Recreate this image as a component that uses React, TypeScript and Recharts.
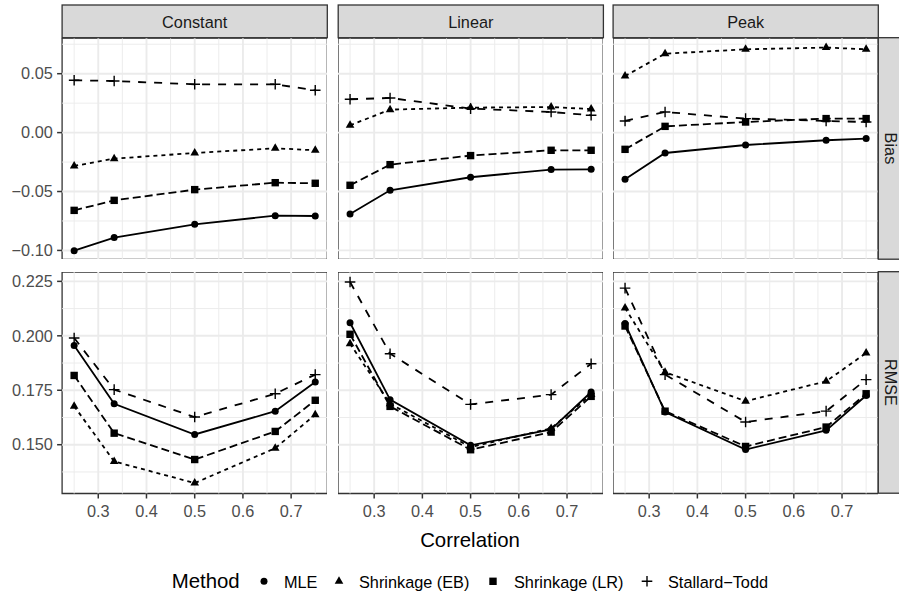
import React from "react";
import { LineChart, Line, XAxis, YAxis, ReferenceLine, ReferenceArea } from "recharts";

const FONT = "'Liberation Sans', Arial, Helvetica, sans-serif";

// ---------- data ----------
const correlation = [0.25, 0.333, 0.5, 0.667, 0.75];
const scenarios = ["Constant", "Linear", "Peak"];
const measures = ["Bias", "RMSE"];
const methodLabels = ["MLE", "Shrinkage (EB)", "Shrinkage (LR)", "Stallard−Todd"];

const xTicks = [0.3, 0.4, 0.5, 0.6, 0.7];
const xTickLabels = ["0.3", "0.4", "0.5", "0.6", "0.7"];
const xMinor = [0.25, 0.35, 0.45, 0.55, 0.65, 0.75];
const biasTicks = [-0.1, -0.05, 0, 0.05];
const biasTickLabels = ["−0.10", "−0.05", "0.00", "0.05"];
const biasMinor = [-0.075, -0.025, 0.025, 0.075];
const rmseTicks = [0.15, 0.175, 0.2, 0.225];
const rmseTickLabels = ["0.150", "0.175", "0.200", "0.225"];
const rmseMinor = [0.1375, 0.1625, 0.1875, 0.2125];

// Bias
const biasConstantMLE = [-0.1002, -0.0891, -0.0778, -0.0705, -0.0708];
const biasConstantEB = [-0.0283, -0.0221, -0.0173, -0.0133, -0.015];
const biasConstantLR = [-0.066, -0.0575, -0.0484, -0.0425, -0.043];
const biasConstantST = [0.0444, 0.0438, 0.041, 0.041, 0.0359];

const biasLinearMLE = [-0.0691, -0.049, -0.0379, -0.0314, -0.0312];
const biasLinearEB = [0.0062, 0.0195, 0.0212, 0.0217, 0.02];
const biasLinearLR = [-0.0447, -0.0272, -0.0195, -0.015, -0.015];
const biasLinearST = [0.0283, 0.0294, 0.0204, 0.0175, 0.0147];

const biasPeakMLE = [-0.0396, -0.0173, -0.0105, -0.0065, -0.0051];
const biasPeakEB = [0.048, 0.067, 0.0707, 0.0722, 0.0707];
const biasPeakLR = [-0.0142, 0.0053, 0.009, 0.0119, 0.0119];
const biasPeakST = [0.0099, 0.0175, 0.0119, 0.0099, 0.009];

// RMSE
const rmseConstantMLE = [0.1956, 0.1688, 0.1547, 0.1654, 0.1788];
const rmseConstantEB = [0.1677, 0.1423, 0.1324, 0.1484, 0.1638];
const rmseConstantLR = [0.1818, 0.1553, 0.1432, 0.1561, 0.1704];
const rmseConstantST = [0.199, 0.1753, 0.1627, 0.1734, 0.1822];

const rmseLinearMLE = [0.206, 0.1707, 0.1497, 0.157, 0.1742];
const rmseLinearEB = [0.1964, 0.1688, 0.1489, 0.1575, 0.1731];
const rmseLinearLR = [0.2007, 0.1676, 0.1477, 0.1558, 0.1722];
const rmseLinearST = [0.2247, 0.1918, 0.1685, 0.173, 0.1872];

const rmsePeakMLE = [0.2056, 0.165, 0.1478, 0.1566, 0.1726];
const rmsePeakEB = [0.2128, 0.1833, 0.17, 0.1791, 0.1921];
const rmsePeakLR = [0.2045, 0.1654, 0.1492, 0.1581, 0.1734];
const rmsePeakST = [0.2219, 0.1822, 0.1604, 0.1654, 0.1799];

const SERIES: Record<string, number[][]> = {
  "Bias-Constant": [biasConstantMLE, biasConstantEB, biasConstantLR, biasConstantST],
  "Bias-Linear": [biasLinearMLE, biasLinearEB, biasLinearLR, biasLinearST],
  "Bias-Peak": [biasPeakMLE, biasPeakEB, biasPeakLR, biasPeakST],
  "RMSE-Constant": [rmseConstantMLE, rmseConstantEB, rmseConstantLR, rmseConstantST],
  "RMSE-Linear": [rmseLinearMLE, rmseLinearEB, rmseLinearLR, rmseLinearST],
  "RMSE-Peak": [rmsePeakMLE, rmsePeakEB, rmsePeakLR, rmsePeakST],
};

// ---------- layout / style ----------
const COL_LEFT = [62.1, 338.2, 613.1];
const PANEL_W = 265.2;
const ROW_TOP = [37.7, 271.7];
const PANEL_H = 221.5;
const X_DOMAIN: [number, number] = [0.225, 0.775];
const Y_DOMAINS: [number, number][] = [
  [-0.1077, 0.0803],
  [0.1276, 0.2293],
];
const KEYS = ["MLE", "EB", "LR", "ST"];
const DASH = ["", "4 4", "8 4", "8 8"];
const MARKERS = ["circle", "triangle", "square", "plus"];
const GRID = "#EBEBEB";
const BORDER = "#333333";

function renderMarker(kind: string, cx: number, cy: number, key?: string) {
  if (cx == null || cy == null || isNaN(cx) || isNaN(cy)) return <g key={key} />;
  if (kind === "circle") return <circle key={key} cx={cx} cy={cy} r={3.5} fill="#000" />;
  if (kind === "square")
    return <rect key={key} x={cx - 3.7} y={cy - 3.7} width={7.4} height={7.4} fill="#000" />;
  if (kind === "triangle") {
    const s = 3.2;
    const pts = `${cx},${cy - 1.555 * s} ${cx + 1.347 * s},${cy + 0.778 * s} ${cx - 1.347 * s},${cy + 0.778 * s}`;
    return <polygon key={key} points={pts} fill="#000" />;
  }
  return (
    <path
      key={key}
      d={`M${cx - 5.3},${cy}H${cx + 5.3}M${cx},${cy - 5.3}V${cy + 5.3}`}
      stroke="#000"
      strokeWidth={1.4}
      fill="none"
    />
  );
}

function labelFor(ticks: number[], labels: string[]) {
  return (v: number) => {
    let best = 0;
    for (let i = 1; i < ticks.length; i++) {
      if (Math.abs(ticks[i] - v) < Math.abs(ticks[best] - v)) best = i;
    }
    return labels[best];
  };
}

function Panel({ row, col }: { row: number; col: number }) {
  const isLeft = col === 0;
  const isBottom = row === 1;
  const yAxisW = isLeft ? COL_LEFT[0] : 0;
  const xAxisH = isBottom ? 40 : 0;
  const width = PANEL_W + yAxisW;
  const height = PANEL_H + xAxisH;
  const left = COL_LEFT[col] - yAxisW;
  const top = ROW_TOP[row];
  const series = SERIES[`${measures[row]}-${scenarios[col]}`];
  const data = correlation.map((x, i) => ({
    x,
    MLE: series[0][i],
    EB: series[1][i],
    LR: series[2][i],
    ST: series[3][i],
  }));
  const yDomain = Y_DOMAINS[row];
  const yTicks = row === 0 ? biasTicks : rmseTicks;
  const yLabels = row === 0 ? biasTickLabels : rmseTickLabels;
  const yMinor = row === 0 ? biasMinor : rmseMinor;
  const tickStyle = { fill: "#4D4D4D", fontSize: 16.3, fontFamily: FONT };

  return (
    <div style={{ position: "absolute", left, top, width, height }}>
      <LineChart width={width} height={height} data={data} margin={{ top: 0, right: 0, bottom: 0, left: 0 }}>
        <XAxis
          dataKey="x"
          type="number"
          domain={X_DOMAIN}
          ticks={xTicks}
          interval={0}
          allowDataOverflow
          hide={!isBottom}
          height={xAxisH}
          axisLine={false}
          tickLine={{ stroke: BORDER, strokeWidth: 1.5 }}
          tickSize={5}
          tickMargin={6.5}
          tick={tickStyle}
          tickFormatter={labelFor(xTicks, xTickLabels)}
        />
        <YAxis
          type="number"
          domain={yDomain}
          ticks={yTicks}
          interval={0}
          allowDataOverflow
          hide={!isLeft}
          width={yAxisW}
          axisLine={false}
          tickLine={{ stroke: BORDER, strokeWidth: 1.5 }}
          tickSize={5}
          tickMargin={4.3}
          tick={tickStyle}
          tickFormatter={labelFor(yTicks, yLabels)}
        />
        {xMinor.map((v) => (
          <ReferenceLine key={`xm${v}`} x={v} stroke={GRID} strokeWidth={0.95} />
        ))}
        {yMinor.map((v) => (
          <ReferenceLine key={`ym${v}`} y={v} stroke={GRID} strokeWidth={0.95} />
        ))}
        {xTicks.map((v) => (
          <ReferenceLine key={`xM${v}`} x={v} stroke={GRID} strokeWidth={1.9} />
        ))}
        {yTicks.map((v) => (
          <ReferenceLine key={`yM${v}`} y={v} stroke={GRID} strokeWidth={1.9} />
        ))}
        {KEYS.map((k, i) => (
          <Line
            key={k}
            dataKey={k}
            type="linear"
            stroke="#000"
            strokeWidth={1.8}
            strokeDasharray={DASH[i] || undefined}
            isAnimationActive={false}
            activeDot={false}
            dot={(p: any) => renderMarker(MARKERS[i], p.cx, p.cy, `${k}-${p.index}`)}
          />
        ))}
        <ReferenceArea
          x1={X_DOMAIN[0]}
          x2={X_DOMAIN[1]}
          y1={yDomain[0]}
          y2={yDomain[1]}
          fill="none"
          fillOpacity={0}
          stroke={BORDER}
          strokeWidth={1.3}
          ifOverflow="visible"
        />
      </LineChart>
    </div>
  );
}

const legendMarkerX = [264, 339, 493, 647];
const legendLabelX = [284, 359, 514, 668];

export default function App() {
  return (
    <div
      style={{
        position: "absolute",
        left: 0,
        top: 0,
        width: 899,
        height: 594,
        overflow: "hidden",
        background: "#fff",
        fontFamily: FONT,
      }}
    >
      {[0, 1].map((r) => [0, 1, 2].map((c) => <Panel key={`${r}-${c}`} row={r} col={c} />))}
      <svg
        width={899}
        height={594}
        style={{ position: "absolute", left: 0, top: 0, pointerEvents: "none" }}
      >
        {scenarios.map((s, c) => (
          <g key={s}>
            <rect x={COL_LEFT[c]} y={5} width={PANEL_W} height={32.7} fill="#D9D9D9" stroke={BORDER} strokeWidth={1.3} />
            <text
              x={COL_LEFT[c] + PANEL_W / 2}
              y={27.8}
              textAnchor="middle"
              fontSize={16.3}
              fontFamily={FONT}
              fill="#1A1A1A"
            >
              {s}
            </text>
          </g>
        ))}
        {measures.map((m, r) => (
          <g key={m}>
            <rect
              x={COL_LEFT[2] + PANEL_W}
              y={ROW_TOP[r]}
              width={33}
              height={PANEL_H}
              fill="#D9D9D9"
              stroke={BORDER}
              strokeWidth={1.3}
            />
            <text
              transform={`translate(890.5, ${ROW_TOP[r] + PANEL_H / 2}) rotate(90)`}
              x={0}
              y={5.8}
              textAnchor="middle"
              fontSize={16.3}
              fontFamily={FONT}
              fill="#1A1A1A"
            >
              {m}
            </text>
          </g>
        ))}
        <text x={470} y={546.5} textAnchor="middle" fontSize={20.4} fontFamily={FONT} fill="#000">
          Correlation
        </text>
        <text x={171.7} y={587.5} fontSize={20.4} fontFamily={FONT} fill="#000">
          Method
        </text>
        {methodLabels.map((lab, i) => (
          <g key={lab}>
            {renderMarker(MARKERS[i], legendMarkerX[i], 581.3)}
            <text x={legendLabelX[i]} y={587.6} fontSize={16.3} fontFamily={FONT} fill="#000">
              {lab}
            </text>
          </g>
        ))}
      </svg>
    </div>
  );
}
